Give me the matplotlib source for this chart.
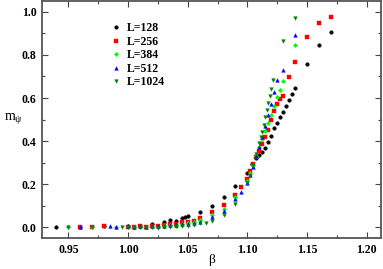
import matplotlib
matplotlib.use("Agg")
import matplotlib.pyplot as plt
from matplotlib.ticker import MultipleLocator

# beta and m_psi values, one pair of lists per lattice size
beta_128 = [0.94, 0.96, 0.98, 1.00, 1.01, 1.02, 1.03, 1.035, 1.04, 1.045, 1.0475,
            1.05, 1.06, 1.07, 1.08, 1.09, 1.10, 1.104, 1.1075, 1.11, 1.1125, 1.115,
            1.1175, 1.12, 1.1225, 1.125, 1.1275, 1.13, 1.1325, 1.135, 1.1375, 1.14,
            1.15, 1.16, 1.17]
m_128 = [0.0, 0.0, 0.005, 0.004, 0.008, 0.015, 0.024, 0.032, 0.030, 0.043, 0.047,
         0.051, 0.070, 0.098, 0.141, 0.191, 0.254, 0.292, 0.322, 0.335, 0.349, 0.369,
         0.394, 0.426, 0.460, 0.482, 0.510, 0.535, 0.563, 0.591, 0.619, 0.648,
         0.757, 0.848, 0.905]

beta_256 = [0.96, 0.97, 0.98, 1.00, 1.005, 1.01, 1.015, 1.02, 1.025, 1.03, 1.035,
            1.04, 1.045, 1.05, 1.055, 1.06, 1.07, 1.08, 1.09, 1.095, 1.10, 1.1025,
            1.105, 1.1075, 1.11, 1.1125, 1.115, 1.1175, 1.12, 1.1225, 1.125, 1.1275,
            1.13, 1.135, 1.14, 1.15, 1.16, 1.17]
m_256 = [0.0, 0.002, 0.006, 0.0, 0.002, 0.004, 0.003, 0.006, 0.004, 0.012, 0.014,
         0.015, 0.025, 0.025, 0.028, 0.045, 0.071, 0.102, 0.149, 0.185, 0.226, 0.262,
         0.292, 0.325, 0.356, 0.386, 0.420, 0.451, 0.498, 0.541, 0.573, 0.595,
         0.611, 0.696, 0.769, 0.885, 0.947, 0.975]

beta_384 = [0.95, 0.97, 0.99, 1.00, 1.005, 1.01, 1.015, 1.02, 1.025, 1.03, 1.035,
            1.04, 1.045, 1.05, 1.055, 1.06, 1.07, 1.08, 1.09, 1.10, 1.1025, 1.105,
            1.1075, 1.11, 1.1125, 1.115, 1.1175, 1.12, 1.1225, 1.125, 1.1275, 1.13,
            1.14]
m_384 = [0.0, 0.001, 0.002, 0.001, 0.002, 0.0, 0.003, 0.001, 0.002, 0.004, 0.010,
         0.008, 0.015, 0.020, 0.025, 0.033, 0.059, 0.085, 0.140, 0.215, 0.250, 0.290,
         0.330, 0.372, 0.410, 0.447, 0.484, 0.521, 0.562, 0.605, 0.636, 0.678,
         0.848]

beta_512 = [0.96, 0.985, 0.99, 1.00, 1.005, 1.01, 1.015, 1.02, 1.025, 1.03, 1.035,
            1.04, 1.045, 1.05, 1.055, 1.06, 1.07, 1.08, 1.09, 1.095, 1.10, 1.1025,
            1.105, 1.1075, 1.11, 1.1125, 1.115, 1.1175, 1.12, 1.1225, 1.125, 1.13,
            1.14]
m_512 = [0.002, 0.005, 0.0, 0.005, 0.002, 0.004, 0.003, 0.006, 0.005, 0.008, 0.010,
         0.012, 0.014, 0.015, 0.020, 0.025, 0.048, 0.075, 0.130, 0.166, 0.206, 0.243,
         0.282, 0.330, 0.372, 0.420, 0.470, 0.521, 0.573, 0.628, 0.684, 0.732,
         0.894]

beta_1024 = [0.95, 0.97, 0.995, 1.00, 1.005, 1.01, 1.015, 1.02, 1.025, 1.03, 1.035,
             1.04, 1.045, 1.05, 1.055, 1.06, 1.065, 1.07, 1.08, 1.09, 1.10, 1.1025,
             1.105, 1.1075, 1.11, 1.11125, 1.1125, 1.11375, 1.115, 1.11625, 1.1175,
             1.11875, 1.12, 1.12125, 1.13, 1.14]
m_1024 = [0.0, 0.0, 0.001, 0.0, -0.002, 0.001, 0.0, 0.002, -0.001, 0.0, 0.002,
          0.004, 0.005, 0.008, 0.012, 0.018, 0.020, 0.028, 0.056, 0.106, 0.205, 0.240,
          0.290, 0.340, 0.390, 0.417, 0.443, 0.473, 0.510, 0.543, 0.575,
          0.608, 0.643, 0.682, 0.867, 0.971]

series = [
    ("L=128", beta_128, m_128, "o", "black", 2.6),
    ("L=256", beta_256, m_256, "s", "#ff0000", 2.4),
    ("L=384", beta_384, m_384, "D", "#00ff00", 2.2),
    ("L=512", beta_512, m_512, "^", "#0000ff", 2.6),
    ("L=1024", beta_1024, m_1024, "v", "#008000", 2.6),
]

plt.rcParams['font.family'] = ['Liberation Serif', 'DejaVu Serif']
plt.rcParams['font.weight'] = 'bold'

fig = plt.figure(figsize=(3.83, 2.69), dpi=100)
ax = fig.add_axes([0.11, 0.115, 0.885, 0.881])

for lab, b, m, mk, col, ms in series:
    ax.plot(b, m, linestyle="none", marker=mk, color=col, markersize=ms,
            markeredgewidth=0.3, label=lab)

ax.set_xlim(0.928, 1.212)
ax.set_ylim(-0.05, 1.05)
ax.xaxis.set_major_locator(MultipleLocator(0.05))
ax.xaxis.set_minor_locator(MultipleLocator(0.025))
ax.yaxis.set_major_locator(MultipleLocator(0.2))
ax.yaxis.set_minor_locator(MultipleLocator(0.1))
ax.xaxis.set_major_formatter(plt.FuncFormatter(lambda v, p: f"{v:.2f}"))
ax.yaxis.set_major_formatter(plt.FuncFormatter(lambda v, p: f"{v:.1f}"))

ax.tick_params(which="both", direction="in", top=True, right=True,
               labelsize=8.5, color="#444444", pad=4)
ax.tick_params(which="major", length=4, width=0.8)
ax.tick_params(which="minor", length=2.5, width=0.8)
for lbl in ax.get_xticklabels() + ax.get_yticklabels():
    lbl.set_fontweight("bold")
for sp in ax.spines.values():
    sp.set_color("#555555")
    sp.set_linewidth(1.3)

ax.set_xlabel("β", fontsize=9.5)
ax.xaxis.set_label_coords(0.5, -0.068)
ax.set_ylabel(r"m$_\mathregular{\psi}$", fontsize=10, rotation=0, labelpad=10)
ax.yaxis.set_label_coords(-0.085, 0.47)

leg = ax.legend(loc="upper left", bbox_to_anchor=(0.19, 0.93), frameon=False,
                handlelength=0.8, handletextpad=0.5, labelspacing=0.12,
                prop={"weight": "bold", "size": 8.5}, borderaxespad=0)

fig.savefig("out.png", dpi=100)
